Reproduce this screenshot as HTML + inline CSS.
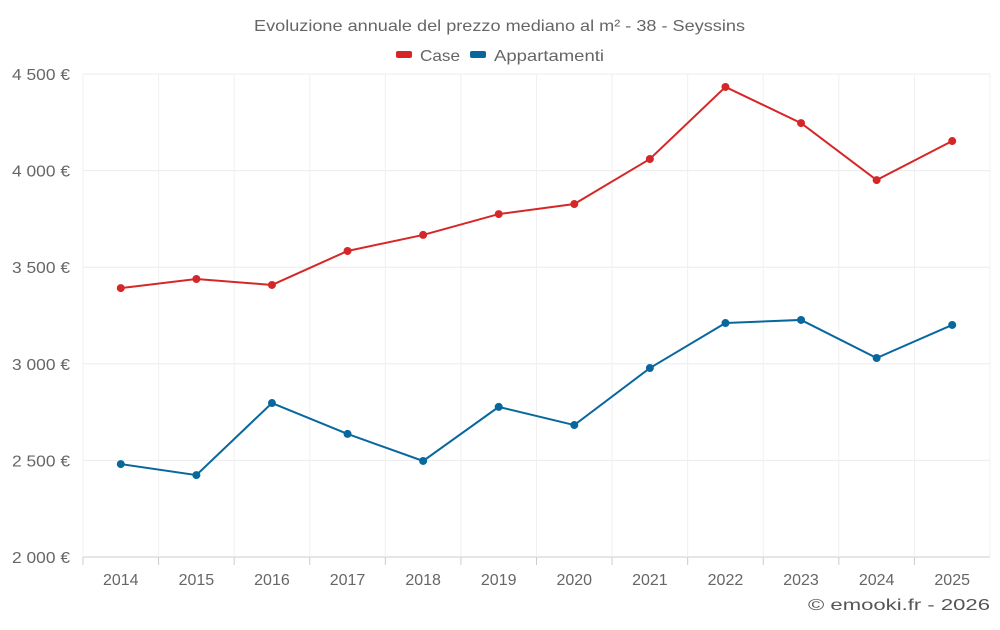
<!DOCTYPE html>
<html><head><meta charset="utf-8"><style>
body{margin:0;background:#fff;font-family:"Liberation Sans",sans-serif}
svg text{font-family:"Liberation Sans",sans-serif}
</style></head><body>
<svg id="c" width="1000" height="625">
<text x="254" y="31" textLength="491" lengthAdjust="spacingAndGlyphs" font-size="16" fill="#666">Evoluzione annuale del prezzo mediano al m² - 38 - Seyssins</text>
<g>
<g><rect x="396" y="51" width="16" height="7" rx="2" fill="#d62728"/><text x="420" y="61" textLength="40" lengthAdjust="spacingAndGlyphs" font-size="16" fill="#666">Case</text></g>
<g><rect x="470" y="51" width="16" height="7" rx="2" fill="#08689e"/><text x="494" y="61" textLength="110" lengthAdjust="spacingAndGlyphs" font-size="16" fill="#666">Appartamenti</text></g>
</g>
<g id="grid"></g><g id="axes"></g><g id="series"></g>
<text x="808" y="610" textLength="182" lengthAdjust="spacingAndGlyphs" font-size="16" fill="#555">© emooki.fr - 2026</text>
</svg>
<script>
const years=["2014","2015","2016","2017","2018","2019","2020","2021","2022","2023","2024","2025"];
const caseVals=[3392,3439,3408,3584,3667,3775,3827,4060,4433,4246,3951,4153];
const appVals=[2481,2424,2797,2637,2497,2777,2683,2978,3211,3227,3030,3201];
const yTicks=[2000,2500,3000,3500,4000,4500];
const yTickLabels=["2 000 €","2 500 €","3 000 €","3 500 €","4 000 €","4 500 €"];
const NS="http://www.w3.org/2000/svg";
const L=83,R=990,T=74,B=557,band=(R-L)/years.length;
const x=i=>L+band*(i+0.5);
const y=v=>B-(v-2000)/2500*(B-T);
function mk(tag,attrs,parent){const e=document.createElementNS(NS,tag);for(const k in attrs)e.setAttribute(k,attrs[k]);parent.appendChild(e);return e;}
const grid=document.getElementById('grid'),axes=document.getElementById('axes'),ser=document.getElementById('series');
yTicks.forEach((t,i)=>{
 const ln=mk('line',{x1:L,x2:R,y1:y(t),y2:y(t),stroke:i==0?'#ccc':'#ececec'},grid);
 
 
 const tx=mk('text',{x:12,y:y(t)+6,textLength:58,lengthAdjust:'spacingAndGlyphs','font-size':16,fill:'#666'},axes);
 tx.textContent=yTickLabels[i];
 
 
});
for(let i=0;i<=years.length;i++){
 const ln=mk('line',{x1:L+band*i,x2:L+band*i,y1:T,y2:B,stroke:'#f0f0f0'},grid);
 
 
}
years.forEach((yr,i)=>{
 const tk=mk('line',{x1:L+band*i,x2:L+band*i,y1:B,y2:B+8,stroke:'#ccc'},axes);
 
 
 const tx=mk('text',{x:x(i),y:585,'text-anchor':'middle','font-size':16,fill:'#666'},axes);
 tx.textContent=yr;
 
 
});
function draw(vals,color,name){
 const p=mk('polyline',{points:vals.map((v,i)=>x(i)+','+y(v)).join(' '),fill:'none',stroke:color,'stroke-width':2},ser);
 
 
 vals.forEach((v,i)=>{
  const c=mk('circle',{cx:x(i),cy:y(v),r:4,fill:color},ser);
  
  
 });
}
draw(caseVals,'#d62728','case');
draw(appVals,'#08689e','appartamenti');
</script>
</body></html>
